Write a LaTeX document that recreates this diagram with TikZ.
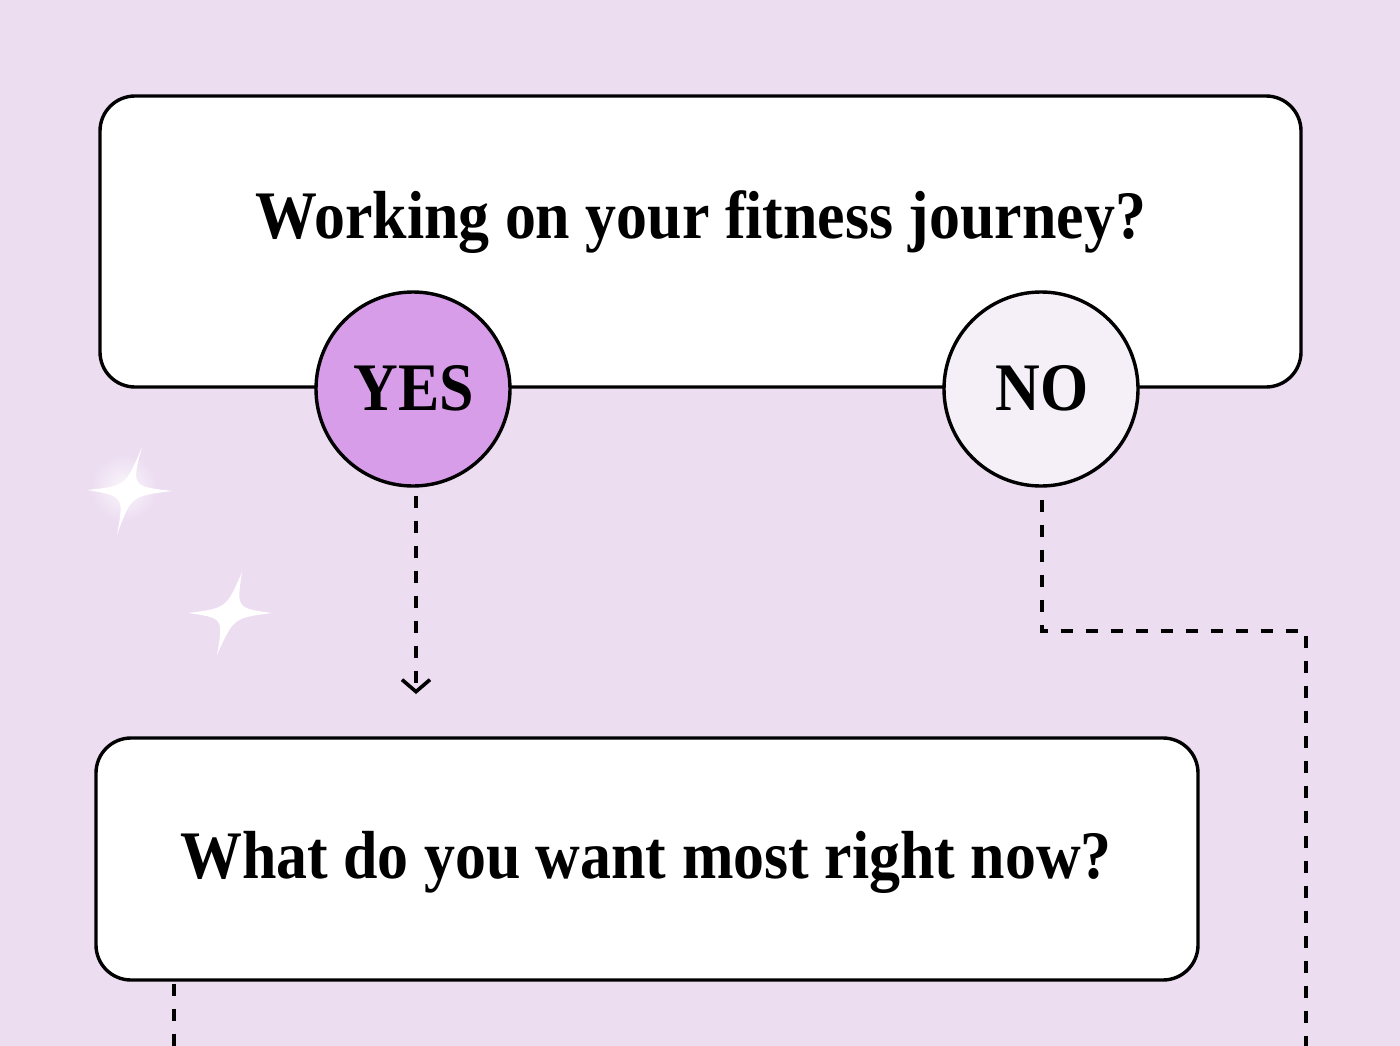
\documentclass[tikz,border=0pt]{standalone}
\usepackage{fontspec}
\newfontfamily\headfont[FakeStretch=0.91]{Liberation Serif}
\usetikzlibrary{arrows.meta}
\definecolor{bg}{HTML}{ECDDF1}
\definecolor{yesfill}{HTML}{D89DE8}
\definecolor{nofill}{HTML}{F5EFF8}
\tikzset{
  qbox/.style={draw=black, line width=3.4pt, fill=white, rounded corners=35pt, inner sep=0pt},
  qtext/.style={font=\headfont\bfseries\fontsize{68}{68}\selectfont, inner sep=0pt, anchor=base},
  answer/.style={circle, draw=black, line width=3.4pt, minimum size=194pt, inner sep=0pt},
  anstext/.style={font=\headfont\bfseries\fontsize{68}{68}\selectfont, inner sep=0pt, anchor=base},
  flow/.style={line width=4pt, dash pattern=on 12pt off 13pt},
  chev/.style={-{Straight Barb[length=12pt,width=28pt,line width=3.6pt]}},
  sparkle/.style={fill=white}
}
\begin{document}
\begin{tikzpicture}[x=1pt,y=-1pt]
\fill[bg] (0,0) rectangle (1400,1046);
\useasboundingbox (0,0) rectangle (1400,1046);
% sparkles
\shade[inner color=white!75!bg, outer color=bg] (124,488) circle (34);
\fill[sparkle] (142,447) .. controls (131.5,486.2) .. (172,491)
  .. controls (131,496.2) .. (117,535)
  .. controls (124,496.2) .. (87,490)
  .. controls (125.6,486) .. (142,447);
\fill[sparkle] (242,572) .. controls (236.5,608.1) .. (272,613)
  .. controls (233.5,618) .. (217,655)
  .. controls (223.4,618) .. (188,613)
  .. controls (226.4,608.1) .. (242,572);
% boxes
\node[qbox, minimum width=1201pt, minimum height=291pt] (q1) at (700.5,241.5) {};
\node[qtext] (q1t) at (701,238) {Working on your fitness journey?};
\node[qbox, minimum width=1102pt, minimum height=242pt] (q2) at (647,859) {};
\node[qtext] (q2t) at (646,878) {What do you want most right now?};
% answers
\node[answer, fill=yesfill] (yes) at (413,389) {};
\node[anstext] (yest) at (414,410) {YES};
\node[answer, fill=nofill] (no) at (1041,389) {};
\node[anstext] (not) at (1042,410) {NO};
% connectors
\coordinate (yesend) at (416,694);
\draw[flow, chev, shorten <=8pt] (yes.south -| yesend) -- (yesend);
\coordinate (nocorner) at (1306,631);
\coordinate (noend) at (1306,1050);
\draw[flow, shorten <=12pt] (no.south -| 1042,0) |- (nocorner) -- (noend);
\coordinate (q2end) at (174,1050);
\draw[flow, shorten <=2pt] (q2.south -| q2end) -- (q2end);
\end{tikzpicture}
\end{document}
